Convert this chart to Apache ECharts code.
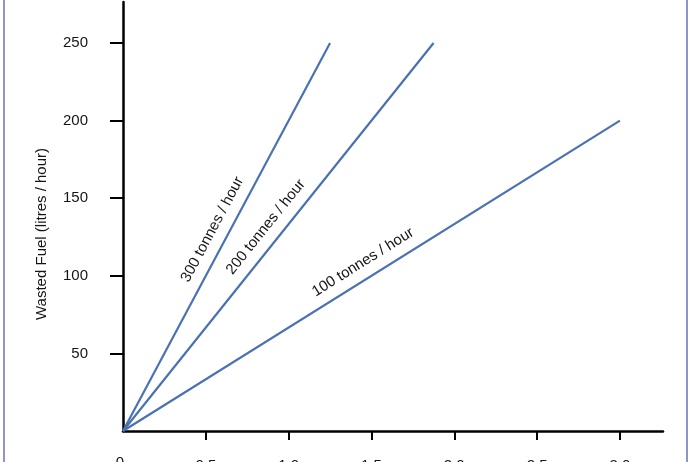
<!DOCTYPE html>
<html>
<head>
<meta charset="utf-8">
<script src="https://cdn.jsdelivr.net/npm/echarts@6/dist/echarts.min.js"></script>
<style>
  html, body { margin: 0; padding: 0; background: #fff; }
  #chart { width: 693px; height: 462px; }
</style>
</head>
<body>
<div id="chart"></div>
<script>
// throughput lines: end points of each line (hours, litres/hour)
const lineNames = ['300 tonnes / hour', '200 tonnes / hour', '100 tonnes / hour'];
const lineEndX = [1.25, 1.875, 3.0];
const lineEndY = [250, 250, 200];
const xTicks = [0.5, 1.0, 1.5, 2.0, 2.5, 3.0];
const yTicks = [50, 100, 150, 200, 250];

const font = 'Liberation Sans, Arial, sans-serif';
const lineColor = '#4a72b2';
const textColor = '#151515';

const chart = echarts.init(document.getElementById('chart'));

const series = lineNames.map((name, i) => ({
  name: name,
  type: 'line',
  data: [[0, 0], [lineEndX[i], lineEndY[i]]],
  symbol: 'none',
  lineStyle: { color: lineColor, width: 2.2 },
  silent: true
}));

chart.setOption({
  animation: false,
  grid: { left: 123, right: 30, top: 2, bottom: 31, outerBoundsMode: 'none', containLabel: false },
  xAxis: {
    type: 'value',
    min: 0,
    max: 3.26,
    splitLine: { show: false },
    axisLine: { lineStyle: { color: '#000', width: 2.5 } },
    axisTick: { customValues: xTicks, length: 9, lineStyle: { color: '#000', width: 2 } },
    axisLabel: {
      customValues: xTicks,
      margin: 27,
      color: textColor,
      fontFamily: font,
      fontSize: 15,
      formatter: v => v.toFixed(1)
    }
  },
  yAxis: {
    type: 'value',
    min: 0,
    max: 276.4,
    splitLine: { show: false },
    axisLine: { lineStyle: { color: '#000', width: 2.5 } },
    axisTick: { customValues: yTicks, length: 13, lineStyle: { color: '#000', width: 2 } },
    axisLabel: {
      customValues: yTicks,
      margin: 35,
      color: textColor,
      fontFamily: font,
      fontSize: 15
    }
  },
  series: series
});

// labels along each line, at the midpoint, pushed off to the upper-left
const graphics = [];
lineNames.forEach((name, i) => {
  const p0 = chart.convertToPixel({ gridIndex: 0 }, [0, 0]);
  const p1 = chart.convertToPixel({ gridIndex: 0 }, [lineEndX[i], lineEndY[i]]);
  const dx = p1[0] - p0[0], dy = p0[1] - p1[1];
  const ang = Math.atan2(dy, dx);
  const mx = (p0[0] + p1[0]) / 2, my = (p0[1] + p1[1]) / 2;
  const off = 16;
  graphics.push({
    type: 'text',
    x: mx - Math.sin(ang) * off,
    y: my - Math.cos(ang) * off,
    rotation: ang,
    style: {
      text: name,
      font: '15px ' + font,
      fill: textColor,
      align: 'center',
      verticalAlign: 'middle'
    }
  });
});

// origin label
const o = chart.convertToPixel({ gridIndex: 0 }, [0, 0]);
graphics.push({
  type: 'text', x: o[0] - 3, y: o[1] + 24,
  style: { text: '0', font: '15px ' + font, fill: textColor, align: 'center', verticalAlign: 'top' }
});

// y axis title
graphics.push({
  type: 'text', x: 42, y: 234, rotation: Math.PI / 2,
  style: { text: 'Wasted Fuel (litres / hour)', font: '15px ' + font, fill: textColor, align: 'center', verticalAlign: 'middle' }
});

// thin frame at the left and right edges
graphics.push({ type: 'line', shape: { x1: 4, y1: 0, x2: 4, y2: 462 }, style: { stroke: '#6870c0', lineWidth: 1.5 } });
graphics.push({ type: 'line', shape: { x1: 687, y1: 0, x2: 687, y2: 462 }, style: { stroke: '#6870c0', lineWidth: 1.5 } });

chart.setOption({ graphic: graphics });
</script>
</body>
</html>
